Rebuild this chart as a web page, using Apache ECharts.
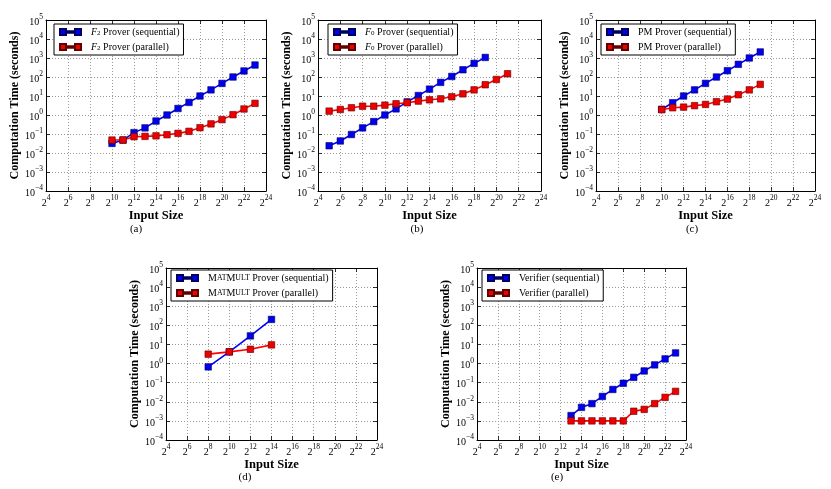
<!DOCTYPE html>
<html><head><meta charset="utf-8">
<script src="https://cdn.jsdelivr.net/npm/echarts@6/dist/echarts.min.js"></script>
<style>html,body{margin:0;padding:0;background:#fff}#c{width:831px;height:489px}</style>
</head><body><div id="c"></div>
<script>
// ---- data (x = log2 of input size, y = seconds) ----
const aX = [10,11,12,13,14,15,16,17,18,19,20,21,22,23];
const aSeq = [0.032,0.048,0.118,0.21,0.48,1.0,2.2,4.6,10,21,46,100,208,427];
const aPar = [0.048,0.048,0.072,0.075,0.08,0.092,0.108,0.138,0.215,0.34,0.57,1.04,2.07,4.1];

const bXSeq = [5,6,7,8,9,10,11,12,13,14,15,16,17,18,19];
const bSeq = [0.024,0.043,0.094,0.21,0.45,1.0,2.1,4.9,10.6,23,52,107,240,520,1070];
const bXPar = [5,6,7,8,9,10,11,12,13,14,15,16,17,18,19,20,21];
const bPar = [1.6,1.95,2.4,2.9,2.9,3.3,3.9,4.4,5.4,6.3,7.1,9.1,13,21,39,74,148];

const cX = [10,11,12,13,14,15,16,17,18,19];
const cSeq = [2.0,4.4,10,21,46,100,215,465,1000,2080];
const cPar = [1.9,2.4,2.6,3.1,3.6,5.0,6.9,11.7,21,41];

const dX = [8,10,12,14];
const dSeq = [0.67,4.1,28,204];
const dPar = [3.1,4.1,5.6,9.5];

const eX = [13,14,15,16,17,18,19,20,21,22,23];
const eSeq = [0.0019,0.0051,0.008,0.019,0.044,0.093,0.19,0.41,0.85,1.75,3.6];
const ePar = [0.001,0.001,0.001,0.001,0.001,0.001,0.0032,0.004,0.008,0.017,0.035];

const names = {
  a: ['F2 Prover (sequential)', 'F2 Prover (parallel)'],
  b: ['F0 Prover (sequential)', 'F0 Prover (parallel)'],
  c: ['PM Prover (sequential)', 'PM Prover (parallel)'],
  d: ['MatMult Prover (sequential)', 'MatMult Prover (parallel)'],
  e: ['Verifier (sequential)', 'Verifier (parallel)']
};
const legendRich = {
  'F2 Prover (sequential)': '{it|F}{sub|2}{t| Prover (sequential)}',
  'F2 Prover (parallel)': '{it|F}{sub|2}{t| Prover (parallel)}',
  'F0 Prover (sequential)': '{it|F}{sub|0}{t| Prover (sequential)}',
  'F0 Prover (parallel)': '{it|F}{sub|0}{t| Prover (parallel)}',
  'PM Prover (sequential)': '{t|PM Prover (sequential)}',
  'PM Prover (parallel)': '{t|PM Prover (parallel)}',
  'MatMult Prover (sequential)': '{t|M}{sc|AT}{t|M}{sc|ULT}{t| Prover (sequential)}',
  'MatMult Prover (parallel)': '{t|M}{sc|AT}{t|M}{sc|ULT}{t| Prover (parallel)}',
  'Verifier (sequential)': '{t|Verifier (sequential)}',
  'Verifier (parallel)': '{t|Verifier (parallel)}'
};
const xTickMin = 4, xTickMax = 24, xTickStep = 2;
const yMin = 1e-4, yMax = 1e5;

// ---- layout ----
const FONT = 'Liberation Serif';
const panels = [
  {key:'a', grid:{left:46, top:20, width:220, height:171}, legend:{left:54, top:24}, cap:{x:136, y:229, t:'(a)'},
   series:[[aX,aSeq],[aX,aPar]]},
  {key:'b', grid:{left:318, top:20, width:223, height:171}, legend:{left:328, top:24}, cap:{x:417, y:229, t:'(b)'},
   series:[[bXSeq,bSeq],[bXPar,bPar]]},
  {key:'c', grid:{left:596, top:20, width:219, height:171}, legend:{left:601, top:24}, cap:{x:692, y:229, t:'(c)'},
   series:[[cX,cSeq],[cX,cPar]]},
  {key:'d', grid:{left:166, top:268, width:211, height:172}, legend:{left:171, top:270}, cap:{x:245, y:477, t:'(d)'},
   series:[[dX,dSeq],[dX,dPar]]},
  {key:'e', grid:{left:477, top:268, width:209, height:172}, legend:{left:482, top:270}, cap:{x:557, y:477, t:'(e)'},
   series:[[eX,eSeq],[eX,ePar]]}
];
const colors = [
  {line:'#0000ff', fill:'#0000ee', border:'#000060'},
  {line:'#ff0000', fill:'#ee0000', border:'#600000'}
];
const supRich = {
  b: {fontSize:10, fontFamily:FONT, color:'#000', lineHeight:14, verticalAlign:'bottom'},
  sup: {fontSize:7.5, fontFamily:FONT, color:'#000', lineHeight:9, verticalAlign:'top'}
};
function supLabel(base, e) {
  const s = e < 0 ? '\u2212' + (-e) : String(e);
  return '{b|' + base + '}{sup|' + s + '}';
}

const grids = [], xAxes = [], yAxes = [], series = [], legends = [], graphics = [];
panels.forEach((p, i) => {
  grids.push(Object.assign({show:false, outerBoundsMode:'none', containLabel:false}, p.grid));
  const axisCommon = {
    axisLine:{show:true, onZero:false, lineStyle:{color:'#000', width:1}},
    axisTick:{show:true, inside:true, length:4, lineStyle:{color:'#000', width:0.8}}
  };
  // bottom x
  xAxes.push(Object.assign({}, axisCommon, {
    gridIndex:i, type:'value', position:'bottom', min:xTickMin, max:xTickMax, interval:xTickStep,
    name:'Input Size', nameLocation:'middle', nameGap:13,
    nameTextStyle:{fontFamily:FONT, fontWeight:'bold', fontSize:12.5, color:'#000'},
    axisLabel:{margin:3, formatter:v => supLabel('2', v), rich:supRich},
    splitLine:{show:true, lineStyle:{color:'#9a9a9a', type:[1,2], width:1}}
  }));
  // top x (mirror ticks)
  xAxes.push(Object.assign({}, axisCommon, {
    gridIndex:i, type:'value', position:'top', min:xTickMin, max:xTickMax, interval:xTickStep,
    axisLabel:{show:false}, splitLine:{show:false}
  }));
  // left y
  yAxes.push(Object.assign({}, axisCommon, {
    gridIndex:i, type:'log', logBase:10, position:'left', min:yMin, max:yMax, interval:1,
    name:'Computation Time (seconds)', nameLocation:'middle', nameGap:15, nameRotate:90,
    nameTextStyle:{fontFamily:FONT, fontWeight:'bold', fontSize:12, color:'#000'},
    axisLabel:{margin:3, formatter:v => supLabel('10', Math.round(Math.log10(v))), rich:supRich},
    splitLine:{show:true, lineStyle:{color:'#9a9a9a', type:[1,2], width:1}}
  }));
  // right y (mirror ticks)
  yAxes.push(Object.assign({}, axisCommon, {
    gridIndex:i, type:'log', logBase:10, position:'right', min:yMin, max:yMax, interval:1,
    axisLabel:{show:false}, splitLine:{show:false}
  }));
  const nm = names[p.key];
  p.series.forEach((s, j) => {
    series.push({
      name:nm[j], type:'line', xAxisIndex:2*i, yAxisIndex:2*i,
      data:s[0].map((x, k) => [x, s[1][k]]),
      symbol:'rect', symbolSize:6.5, showSymbol:true,
      lineStyle:{color:colors[j].line, width:1.6},
      itemStyle:{color:colors[j].fill, borderColor:colors[j].border, borderWidth:0.6},
      emphasis:{disabled:true}, animation:false, z:2+j
    });
  });
  legends.push({
    data:nm, orient:'vertical', left:p.legend.left, top:p.legend.top,
    padding:[3,4,3,5], itemGap:5, itemWidth:21, itemHeight:6,
    icon:'path://M0,0H6V6H0Z M6,2.3H15V3.7H6Z M15,0H21V6H15Z',
    borderColor:'#000', borderWidth:1, backgroundColor:'#fff', selectedMode:false,
    formatter:n => legendRich[n],
    textStyle:{fontFamily:FONT, fontSize:10, color:'#000', padding:[0,0,0,5],
      rich:{
        t:{fontFamily:FONT, fontSize:10, color:'#000'},
        it:{fontFamily:FONT, fontSize:10, fontStyle:'italic', color:'#000'},
        sub:{fontFamily:FONT, fontSize:7, color:'#000', verticalAlign:'bottom', lineHeight:9},
        sc:{fontFamily:FONT, fontSize:7.8, color:'#000'}
      }}
  });
  graphics.push({type:'text', x:p.cap.x, y:p.cap.y, style:{text:p.cap.t, font:'11px "Liberation Serif"', fill:'#000', textAlign:'center', textVerticalAlign:'middle'}});
});

const chart = echarts.init(document.getElementById('c'), null, {renderer:'canvas'});
chart.setOption({
  animation:false,
  backgroundColor:'#fff',
  grid:grids, xAxis:xAxes, yAxis:yAxes, series:series, legend:legends, graphic:graphics,
  tooltip:{show:false}
});
</script>
</body></html>
